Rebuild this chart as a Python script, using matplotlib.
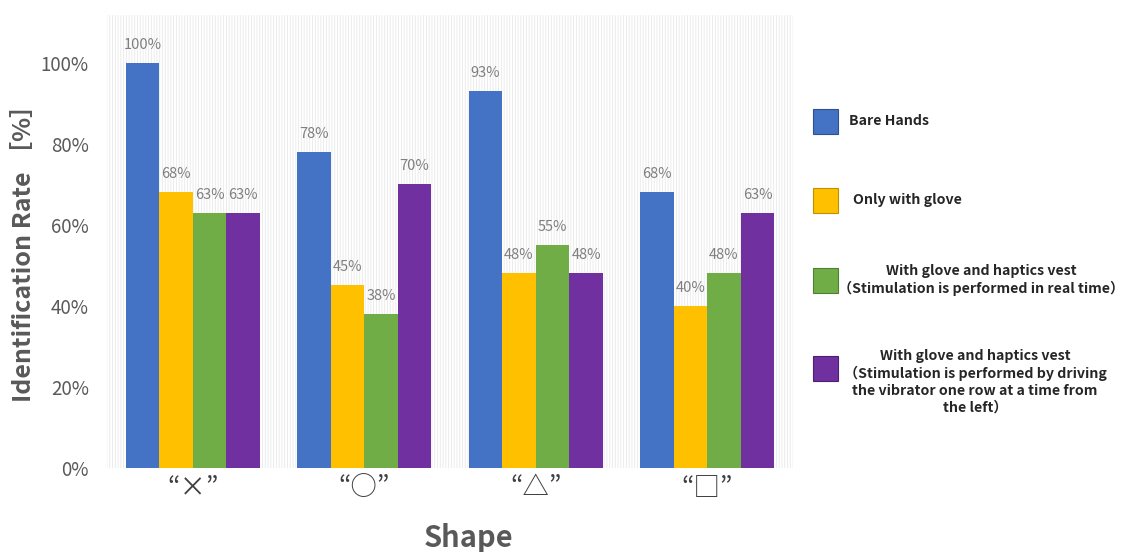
import matplotlib
matplotlib.use("Agg")
import matplotlib.pyplot as plt
import numpy as np
from matplotlib.patches import Rectangle

plt.rcParams['font.family'] = ['Noto Sans CJK JP', 'DejaVu Sans']
plt.rcParams['hatch.linewidth'] = 0.6

shapes = ['“×”', '“○”', '“△”', '“□”']
series_names = [
    'Bare Hands',
    'Only with glove',
    'With glove and haptics vest\n（Stimulation is performed in real time）',
    'With glove and haptics vest\n（Stimulation is performed by driving\nthe vibrator one row at a time from\nthe left）',
]
bare_hands = [100, 78, 93, 68]
only_glove = [68, 45, 48, 40]
vest_realtime = [63, 38, 55, 48]
vest_row_by_row = [63, 70, 48, 63]
colors = ['#4472C4', '#FFC000', '#70AD47', '#7030A0']
edge_colors = ['#2F528F', '#BF9000', '#507E32', '#4B2070']

W, H = 1124, 552
fig = plt.figure(figsize=(W / 100, H / 100), dpi=100)

def fx(px):
    return px / W

def fy(py):
    return 1 - py / H

ax_left, ax_right, ax_top, ax_bottom = 107, 793, 15, 467.5
ax = fig.add_axes([fx(ax_left), fy(ax_bottom), fx(ax_right - ax_left), (ax_bottom - ax_top) / H])

# fine vertical-line texture behind the bars
ax.add_patch(Rectangle((0, 0), 1, 1, transform=ax.transAxes, facecolor='white',
                       edgecolor='#e9e9e9', hatch='||||||', lw=0, zorder=0))

x = np.arange(len(shapes))
width = 0.196
all_series = [bare_hands, only_glove, vest_realtime, vest_row_by_row]
for i, vals in enumerate(all_series):
    pos = x + (i - 1.5) * width
    ax.bar(pos, vals, width, color=colors[i], zorder=2, linewidth=0)
    for xp, v in zip(pos, vals):
        ax.annotate(f'{v}%', (xp, v), xytext=(0, 8), textcoords='offset points',
                    ha='center', va='bottom', fontsize=10.5, color='#7f7f7f')

ax.set_xlim(-0.5, 3.5)
ax.set_ylim(0, (ax_bottom - ax_top) / 4.045)
ax.set_yticks([0, 20, 40, 60, 80, 100])
ax.set_yticklabels(['0%', '20%', '40%', '60%', '80%', '100%'], fontsize=13.5, color='#595959')
ax.set_xticks(x)
ax.set_xticklabels(shapes, fontsize=19, color='#404040')
ax.tick_params(axis='y', length=0, pad=13)
ax.tick_params(axis='x', length=0, pad=5)
for s in ax.spines.values():
    s.set_visible(False)

fig.text(fx(24), fy(247), 'Identification Rate ［%］', rotation=90, ha='center', va='center',
         fontsize=18, fontweight='bold', color='#595959')
fig.text(fx(469), fy(538), 'Shape', ha='center', va='center',
         fontsize=21, fontweight='bold', color='#595959')

# legend drawn by hand on the right
box_y = [121, 200, 280, 368]
text_x = [849, 853, 981, 975]
text_y = [121, 200, 280, 382]
aligns = ['left', 'left', 'center', 'center']
for i in range(4):
    fig.patches.append(Rectangle((fx(813), fy(box_y[i] + 12.5)), fx(25), 25 / H,
                                 transform=fig.transFigure, facecolor=colors[i],
                                 edgecolor=edge_colors[i], lw=0.8))
    fig.text(fx(text_x[i]), fy(text_y[i]), series_names[i], ha=aligns[i], va='center',
             multialignment='center', fontsize=10.2, fontweight='bold', color='#262626',
             linespacing=1.25)

fig.savefig('out.png', dpi=100)
